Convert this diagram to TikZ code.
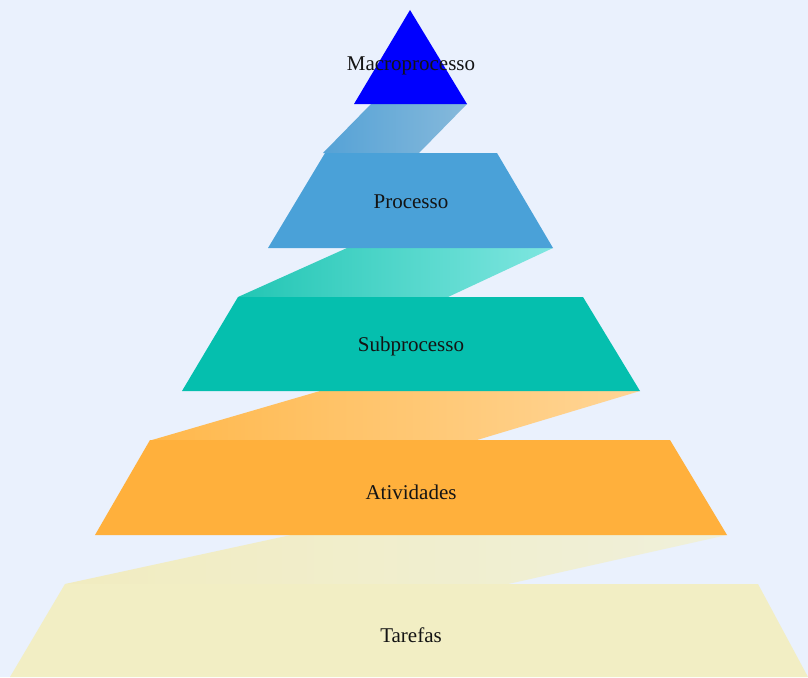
\documentclass[tikz,border=0pt]{standalone}
\usepackage{fontspec}
\setmainfont{Liberation Serif}
\begin{document}
\begin{tikzpicture}[x=1pt,y=-1pt,
  lbl/.style={font=\fontsize{21}{24}\selectfont, text=black!92, inner sep=0pt, anchor=center}]
\definecolor{bg}{HTML}{EAF1FD}
\definecolor{cMacro}{HTML}{0000FF}
\definecolor{cProc}{HTML}{4AA1D8}
\definecolor{cSub}{HTML}{05BFAE}
\definecolor{cAtiv}{HTML}{FFB03C}
\definecolor{cTaref}{HTML}{F2EEC4}
\definecolor{b1L}{HTML}{55A2D6}
\definecolor{b1R}{HTML}{86B9DB}
\definecolor{b2L}{HTML}{22C6B4}
\definecolor{b2R}{HTML}{7FE6E0}
\definecolor{b3L}{HTML}{FFB84C}
\definecolor{b3R}{HTML}{FFD596}
\definecolor{b4L}{HTML}{F1ECC0}
\definecolor{b4R}{HTML}{F0F0DA}
\fill[bg] (0,0) rectangle (808,677);
\useasboundingbox (0,0) rectangle (808,677);
% connecting bands
\shade[left color=b1L, right color=b1R] (371,104) -- (467,104) -- (419,153) -- (323,153) -- cycle;
\shade[left color=b2L, right color=b2R] (347,248) -- (553,248) -- (448,297) -- (238,297) -- cycle;
\shade[left color=b3L, right color=b3R] (320,391) -- (640,391) -- (477,440) -- (152,440) -- cycle;
\shade[left color=b4L, right color=b4R] (291,535) -- (727,535) -- (508,584) -- (65,584) -- cycle;
% layers
\fill[cMacro] (410,10) -- (467,104) -- (354,104) -- cycle;
\fill[cProc] (325,153) -- (497,153) -- (553,248) -- (268,248) -- cycle;
\fill[cSub] (238,297) -- (583,297) -- (640,391) -- (182,391) -- cycle;
\fill[cAtiv] (150,440) -- (670,440) -- (727,535) -- (95,535) -- cycle;
\fill[cTaref] (65,584) -- (758,584) -- (808,677) -- (10,677) -- cycle;
% labels
\node[lbl] (macro) at (411,66) {Macroprocesso};
\node[lbl] (proc) at (411,202) {Processo};
\node[lbl] (sub) at (411,346) {Subprocesso};
\node[lbl] (ativ) at (411,492) {Atividades};
\node[lbl] (taref) at (411,635) {Tarefas};
\end{tikzpicture}
\end{document}
